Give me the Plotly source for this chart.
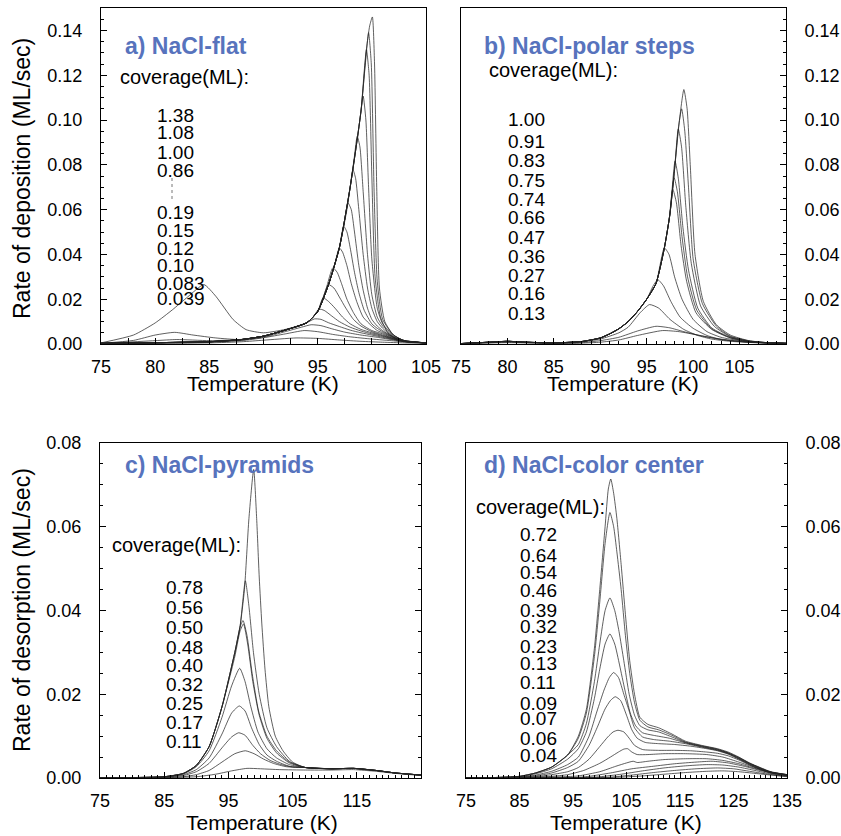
import plotly.graph_objects as go

# ---------------- data ----------------
# Panel a) NaCl-flat : (temperature K, rate ML/s) points per curve
A_LEAD = [(75, 0.0003), (80, 0.0006), (85, 0.001), (88, 0.002), (90, 0.0035), (92, 0.0062), (94, 0.0095)]
A_CURVES = [
    [(75, 0.0005), (78, 0.004), (80, 0.0094), (81.6, 0.0153), (83, 0.021), (84.5, 0.0265), (85.6, 0.0213), (87.2, 0.0109),
     (88.4, 0.0064), (90, 0.005), (92, 0.0065), (94, 0.0095), (95, 0.0145), (96, 0.0265), (97, 0.0429), (98, 0.070),
     (99, 0.104), (99.5, 0.1315), (99.8, 0.142), (100.05, 0.146), (100.25, 0.125), (100.45, 0.07), (100.7, 0.025),
     (101.2, 0.010), (102, 0.004), (103, 0.0015), (105, 0.0005)],
    [(75, 0.0003), (78, 0.0016), (80, 0.004), (81.8, 0.0052), (83.5, 0.004), (85.6, 0.0027), (87.8, 0.002), (90, 0.0035),
     (92, 0.0062), (94, 0.0095), (95, 0.0145), (96, 0.0265), (97, 0.0429), (98, 0.070), (99, 0.104), (99.4, 0.125),
     (99.7, 0.139), (99.95, 0.125), (100.2, 0.07), (100.5, 0.028), (101, 0.011), (102, 0.004), (103, 0.0015), (105, 0.0005)],
    [(75, 0.0002), (80, 0.0015), (82, 0.002), (85, 0.0015), (88, 0.002), (90, 0.0035), (92, 0.0062), (94, 0.0095),
     (95, 0.0145), (96, 0.0265), (97, 0.0429), (98, 0.070), (99, 0.104), (99.3, 0.122), (99.5, 0.1315), (99.75, 0.12),
     (100, 0.075), (100.3, 0.030), (100.8, 0.012), (101.5, 0.005), (102.5, 0.002), (105, 0.0005)],
    A_LEAD + [(95, 0.0145), (96, 0.0265), (97, 0.0429), (98, 0.070), (98.7, 0.093), (99.0, 0.104), (99.2, 0.1107),
              (99.45, 0.10), (99.7, 0.07), (100, 0.038), (100.5, 0.016), (101, 0.009), (102, 0.004), (103, 0.0015), (105, 0.0005)],
    A_LEAD + [(95, 0.0145), (96, 0.0265), (97, 0.0429), (98, 0.070), (98.4, 0.084), (98.65, 0.0928), (98.9, 0.088),
              (99.2, 0.068), (99.6, 0.040), (100, 0.022), (100.5, 0.012), (101, 0.008), (102, 0.0035), (103, 0.0015), (105, 0.0005)],
    A_LEAD + [(95, 0.0145), (96, 0.0265), (97, 0.0429), (97.7, 0.060), (98.0, 0.070), (98.25, 0.0779), (98.5, 0.074),
              (98.8, 0.060), (99.2, 0.040), (99.6, 0.025), (100, 0.016), (100.5, 0.010), (101, 0.007), (102, 0.003),
              (103, 0.0013), (105, 0.0005)],
    A_LEAD + [(95, 0.0145), (96, 0.0265), (97, 0.0429), (97.4, 0.0526), (97.8, 0.063), (98.1, 0.060), (98.4, 0.050),
              (98.8, 0.035), (99.2, 0.024), (99.6, 0.016), (100, 0.011), (100.5, 0.008), (101, 0.006), (102, 0.003),
              (103, 0.0012), (105, 0.0005)],
    A_LEAD + [(95, 0.0145), (96, 0.0265), (96.6, 0.036), (97.0, 0.0429), (97.4, 0.0526), (97.7, 0.050), (98, 0.043),
              (98.4, 0.032), (98.8, 0.023), (99.3, 0.015), (100, 0.009), (100.5, 0.007), (101, 0.0055), (102, 0.003),
              (103, 0.0012), (105, 0.0005)],
    A_LEAD + [(95, 0.0145), (96, 0.0265), (96.5, 0.034), (97.0, 0.0429), (97.3, 0.041), (97.7, 0.035), (98.1, 0.027),
              (98.6, 0.019), (99.2, 0.012), (100, 0.008), (100.5, 0.006), (101, 0.005), (102, 0.0028), (103, 0.0012), (105, 0.0005)],
    A_LEAD + [(95, 0.0145), (95.8, 0.025), (96.4, 0.034), (96.8, 0.032), (97.2, 0.027), (97.7, 0.020), (98.3, 0.014),
              (99, 0.009), (100, 0.006), (101, 0.0045), (102, 0.0025), (103, 0.0012), (105, 0.0005)],
    A_LEAD + [(95, 0.0145), (95.5, 0.0206), (96.0, 0.0265), (96.5, 0.025), (97, 0.021), (97.6, 0.016), (98.3, 0.011),
              (99, 0.008), (100, 0.0055), (101, 0.004), (102, 0.0025), (103, 0.0012), (105, 0.0005)],
    A_LEAD + [(95, 0.0145), (95.5, 0.0206), (96, 0.019), (96.6, 0.016), (97.3, 0.012), (98, 0.009), (99, 0.0065),
              (100, 0.005), (101, 0.0037), (102, 0.0023), (103, 0.0012), (105, 0.0005)],
    A_LEAD + [(94.6, 0.012), (95.1, 0.0156), (95.6, 0.015), (96.3, 0.0125), (97, 0.010), (98, 0.0075), (99, 0.0058),
              (100, 0.0045), (101, 0.0034), (102, 0.0022), (103, 0.0012), (105, 0.0005)],
    A_LEAD + [(94.7, 0.0112), (95.3, 0.011), (96, 0.0095), (97, 0.0078), (98, 0.0062), (99, 0.005), (100, 0.004),
              (101, 0.003), (102, 0.002), (103, 0.0011), (105, 0.0005)],
    [(75, 0.0002), (85, 0.001), (88, 0.0018), (90, 0.003), (92, 0.0055), (93.5, 0.0075), (94.4, 0.0086), (95.3, 0.0082),
     (96.3, 0.0068), (97.5, 0.0053), (99, 0.004), (100.5, 0.003), (102, 0.0018), (103, 0.001), (105, 0.0005)],
    [(75, 0.0001), (85, 0.0008), (88, 0.0015), (90, 0.0028), (92, 0.0045), (93.75, 0.006), (95, 0.0055), (96.5, 0.0042),
     (98, 0.0032), (100, 0.0022), (102, 0.0014), (103, 0.0009), (105, 0.0004)],
    [(75, 0.0001), (85, 0.0005), (88, 0.001), (90, 0.0017), (93, 0.0027), (95, 0.0025), (97, 0.0018), (99, 0.0012),
     (101, 0.0008), (103, 0.0005), (105, 0.0003)],
]
A_UPPER_LABELS = ["1.38", "1.08", "1.00", "0.86"]
A_LOWER_LABELS = ["0.19", "0.15", "0.12", "0.10", "0.083", "0.039"]

# Panel b) NaCl-polar steps
B_LEAD = [(75, 0.0002), (78, 0.0008), (80, 0.0012), (82, 0.0008), (85, 0.0005), (88, 0.0011), (90, 0.0027),
          (91, 0.0045), (92, 0.0068), (93, 0.010), (94, 0.0145), (95, 0.020)]
B_CURVES = [
    B_LEAD + [(96, 0.027), (96.9, 0.0429), (97.5, 0.058), (98.0, 0.078), (98.5, 0.099), (99.0, 0.1136), (99.35, 0.105),
              (99.7, 0.079), (100.2, 0.040), (101.1, 0.019), (102.5, 0.0086), (104, 0.004), (106, 0.0015), (108, 0.0006), (110, 0.0003)],
    B_LEAD + [(96, 0.027), (96.9, 0.0429), (97.5, 0.058), (98.0, 0.078), (98.4, 0.096), (98.76, 0.105), (99.1, 0.095),
              (99.5, 0.070), (100.0, 0.038), (101.0, 0.018), (102.5, 0.008), (104, 0.0035), (106, 0.0014), (108, 0.0006), (110, 0.0003)],
    B_LEAD + [(96, 0.027), (96.9, 0.0429), (97.5, 0.058), (98.0, 0.078), (98.4, 0.096), (98.75, 0.088), (99.2, 0.062),
              (99.8, 0.036), (100.8, 0.017), (102.3, 0.0078), (104, 0.0033), (106, 0.0013), (108, 0.0006), (110, 0.0003)],
    B_LEAD + [(96, 0.027), (96.9, 0.0429), (97.5, 0.058), (98.05, 0.0816), (98.4, 0.074), (98.9, 0.052), (99.5, 0.033),
              (100.5, 0.016), (102, 0.0072), (104, 0.003), (106, 0.0012), (108, 0.0005), (110, 0.0003)],
    B_LEAD + [(96, 0.027), (96.9, 0.0429), (97.5, 0.058), (97.95, 0.0742), (98.3, 0.068), (98.8, 0.048), (99.4, 0.030),
              (100.4, 0.015), (102, 0.0068), (104, 0.0028), (106, 0.0011), (108, 0.0005), (110, 0.0003)],
    B_LEAD + [(96, 0.027), (96.9, 0.0429), (97.4, 0.055), (97.8, 0.0692), (98.2, 0.063), (98.7, 0.044), (99.3, 0.028),
              (100.3, 0.014), (102, 0.0065), (104, 0.0027), (106, 0.001), (108, 0.0005), (110, 0.0003)],
    B_LEAD + [(96, 0.027), (96.9, 0.0429), (97.4, 0.040), (98, 0.030), (98.8, 0.020), (100, 0.011), (101.5, 0.0055),
              (103, 0.003), (105, 0.0015), (107, 0.0007), (110, 0.0003)],
    B_LEAD + [(95.7, 0.026), (96.2, 0.0287), (96.8, 0.026), (97.6, 0.019), (98.6, 0.012), (100, 0.007), (101.5, 0.0038),
              (103, 0.002), (106, 0.0008), (110, 0.0003)],
    [(75, 0.0002), (80, 0.001), (85, 0.0004), (88, 0.001), (90, 0.0022), (92, 0.005), (93, 0.0075), (94.3, 0.014),
     (95.3, 0.0176), (96.3, 0.016), (97.5, 0.011), (99, 0.0065), (100.5, 0.0038), (102, 0.0022), (104, 0.0012), (107, 0.0005), (110, 0.0002)],
    [(75, 0.0001), (80, 0.0008), (85, 0.0003), (88, 0.0006), (90, 0.0015), (92, 0.003), (94, 0.0058), (96, 0.0079),
     (97.5, 0.0072), (99, 0.0055), (101, 0.0035), (103, 0.002), (106, 0.0008), (110, 0.0003)],
    [(75, 0.0001), (80, 0.0006), (85, 0.0002), (88, 0.0004), (90, 0.0008), (92, 0.0018), (94, 0.0038), (96.7, 0.006),
     (98.5, 0.0055), (100.5, 0.004), (102.5, 0.0025), (105, 0.0012), (110, 0.0003)],
]
B_LABELS = ["1.00", "0.91", "0.83", "0.75", "0.74", "0.66", "0.47", "0.36", "0.27", "0.16", "0.13"]

# Panel c) NaCl-pyramids
C_LEAD = [(75, 0.0), (80, 0.0001), (85, 0.0003), (88, 0.0011), (90, 0.003), (92, 0.0075), (94, 0.017)]
C_TAIL = [(107, 0.0025), (111, 0.0022), (114.5, 0.0023), (118, 0.0018), (121, 0.0012), (125, 0.0007)]
C_CURVES = [
    C_LEAD + [(96, 0.030), (96.8, 0.036), (97.5, 0.045), (98.2, 0.062), (98.94, 0.0737), (99.4, 0.062), (99.8, 0.048),
              (100.2, 0.037), (100.7, 0.026), (101.3, 0.017), (102.3, 0.010), (103.5, 0.0065), (105, 0.0038)] + C_TAIL,
    C_LEAD + [(96, 0.030), (96.8, 0.036), (97.64, 0.0471), (98.2, 0.041), (98.9, 0.030), (99.8, 0.020), (101, 0.012),
              (102.5, 0.0075), (104.5, 0.004)] + C_TAIL,
    C_LEAD + [(96, 0.030), (96.8, 0.036), (97.28, 0.0376), (97.9, 0.034), (98.7, 0.025), (99.7, 0.016), (101, 0.010),
              (102.5, 0.0065), (104.5, 0.0038)] + C_TAIL,
    C_LEAD + [(96, 0.029), (96.8, 0.035), (97.35, 0.0368), (98, 0.032), (98.8, 0.023), (99.8, 0.015), (101, 0.0095),
              (102.5, 0.006), (104.5, 0.0036)] + C_TAIL,
    [(75, 0.0), (80, 0.0001), (85, 0.0003), (88, 0.001), (90, 0.0027), (92, 0.0065), (94, 0.0145), (95.5, 0.022),
     (96.76, 0.0262), (97.6, 0.023), (98.5, 0.017), (99.6, 0.011), (101, 0.007), (102.5, 0.0048), (104.5, 0.0032)] + C_TAIL,
    [(75, 0.0), (85, 0.0002), (88, 0.0008), (90, 0.002), (92, 0.0048), (94, 0.0105), (95.5, 0.0155), (96.7, 0.0172),
     (97.6, 0.016), (98.6, 0.012), (99.8, 0.008), (101, 0.0055), (102.5, 0.004), (104.5, 0.0028)] + C_TAIL,
    [(75, 0.0), (85, 0.0002), (88, 0.0006), (90, 0.0015), (92, 0.0035), (94, 0.0072), (95.5, 0.0098), (96.6, 0.0108),
     (97.6, 0.0102), (98.8, 0.0078), (100, 0.0058), (101.5, 0.0042), (103, 0.0033), (105, 0.0026)] + C_TAIL,
    [(75, 0.0), (85, 0.0001), (88, 0.0003), (90, 0.0008), (92, 0.0018), (94, 0.0038), (96, 0.0058), (97.64, 0.0065),
     (99, 0.0058), (100.5, 0.0045), (102, 0.0035), (104, 0.0027)] + C_TAIL,
    [(75, 0.0), (85, 0.0001), (90, 0.0003), (93, 0.0009), (95.5, 0.0017), (97.9, 0.0023), (100, 0.0022), (103, 0.002),
     (107, 0.0019), (111, 0.0019), (114.5, 0.002), (118, 0.0016), (121, 0.0011), (125, 0.0006)],
]
C_LABELS = ["0.78", "0.56", "0.50", "0.48", "0.40", "0.32", "0.25", "0.17", "0.11"]

# Panel d) NaCl-color center
D_LEAD = [(75, 0.0), (80, 0.0001), (85, 0.0004), (88, 0.0012), (91, 0.0026), (94, 0.0055)]
D_CURVES = [
    D_LEAD + [(96, 0.010), (97.5, 0.0164), (99, 0.031), (100, 0.045), (101, 0.060), (101.6, 0.069), (102.06, 0.0714),
              (102.6, 0.068), (103.2, 0.062), (104, 0.051), (104.8, 0.039), (105.6, 0.028), (106.5, 0.020), (107.5, 0.0145),
              (109, 0.0128), (111, 0.012), (113.5, 0.0105), (116, 0.0088), (119, 0.0078), (122, 0.007), (124, 0.0062),
              (126, 0.005), (128, 0.0036), (130, 0.0025), (132, 0.0015), (135, 0.0008)],
    D_LEAD + [(96, 0.0095), (97.5, 0.0155), (99, 0.029), (100, 0.042), (101, 0.056), (101.9, 0.0634), (102.6, 0.060),
              (103.2, 0.054), (104, 0.045), (104.8, 0.034), (105.6, 0.025), (106.5, 0.018), (107.5, 0.0138), (109, 0.0122),
              (111, 0.0115), (113.5, 0.0102), (116, 0.0086), (119, 0.0077), (122, 0.0069), (124, 0.006), (126, 0.0049),
              (128, 0.0035), (130, 0.0024), (132, 0.0014), (135, 0.0008)],
    D_LEAD + [(96, 0.008), (97.5, 0.013), (99, 0.023), (100, 0.032), (101, 0.040), (101.9, 0.043), (102.8, 0.040),
              (103.6, 0.035), (104.5, 0.028), (105.5, 0.020), (106.5, 0.015), (107.5, 0.0125), (109, 0.0115), (111, 0.011),
              (113.5, 0.0098), (116, 0.0085), (119, 0.0076), (122, 0.0068), (124, 0.006), (126, 0.0048), (128, 0.0035),
              (130, 0.0024), (132, 0.0014), (135, 0.0008)],
    [(75, 0.0), (80, 0.0001), (85, 0.0003), (88, 0.001), (91, 0.0022), (94, 0.0045), (96, 0.007), (97.5, 0.011),
     (99, 0.019), (100, 0.026), (101, 0.032), (101.9, 0.0344), (102.8, 0.032), (103.7, 0.027), (104.7, 0.021),
     (105.7, 0.0155), (106.7, 0.0125), (108, 0.0108), (110, 0.0102), (113, 0.0095), (116, 0.0084), (119, 0.0075),
     (122, 0.0067), (124, 0.0059), (126, 0.0047), (128, 0.0034), (130, 0.0023), (132, 0.0014), (135, 0.0008)],
    [(75, 0.0), (85, 0.0002), (88, 0.0007), (91, 0.0016), (94, 0.0032), (96, 0.005), (98, 0.010), (99.5, 0.016),
     (100.8, 0.021), (101.8, 0.024), (102.6, 0.0252), (103.5, 0.024), (104.5, 0.020), (105.5, 0.016), (106.5, 0.012),
     (108, 0.0098), (110, 0.0092), (113, 0.0088), (116, 0.0082), (119, 0.0074), (122, 0.0066), (124, 0.0058),
     (126, 0.0046), (128, 0.0033), (130, 0.0022), (132, 0.0013), (135, 0.0007)],
    [(75, 0.0), (85, 0.0002), (88, 0.0005), (91, 0.0012), (94, 0.0025), (96, 0.004), (98, 0.0078), (99.5, 0.012),
     (101, 0.0165), (102, 0.0185), (102.9, 0.0194), (103.9, 0.0185), (105, 0.015), (106, 0.0115), (107, 0.0095),
     (108.5, 0.0085), (111, 0.0082), (114, 0.008), (117, 0.0076), (120, 0.007), (122, 0.0065), (124, 0.0057),
     (126, 0.0045), (128, 0.0032), (130, 0.0021), (132, 0.0012), (135, 0.0007)],
    [(75, 0.0), (85, 0.0001), (88, 0.0003), (91, 0.0008), (94, 0.0015), (96, 0.0025), (98, 0.0045), (100, 0.0075),
     (101.5, 0.0098), (102.5, 0.011), (103.4, 0.0114), (104.5, 0.011), (105.5, 0.0095), (106.5, 0.0078), (108, 0.0068),
     (111, 0.0066), (114, 0.0066), (117, 0.0065), (120, 0.0062), (122, 0.0059), (124, 0.0053), (126, 0.0043),
     (128, 0.0031), (130, 0.002), (132, 0.0012), (135, 0.0006)],
    [(75, 0.0), (88, 0.0002), (91, 0.0004), (94, 0.0008), (97, 0.0018), (100, 0.0035), (102, 0.005), (103.5, 0.0062),
     (104.5, 0.0069), (105.2, 0.0070), (106, 0.0062), (107, 0.0056), (109, 0.0056), (112, 0.0058), (116, 0.0058),
     (120, 0.0056), (123, 0.005), (126, 0.0038), (129, 0.0025), (132, 0.0014), (135, 0.0007)],
    [(75, 0.0), (90, 0.0002), (93, 0.0003), (96, 0.0005), (100, 0.0015), (103, 0.0028), (105, 0.0036), (106.25, 0.004),
     (107, 0.0037), (109, 0.004), (112, 0.0044), (116, 0.0046), (120, 0.0046), (123, 0.0042), (126, 0.0034),
     (129, 0.0023), (132, 0.0013), (135, 0.0007)],
    [(75, 0.0), (95, 0.0001), (98, 0.0004), (102, 0.0012), (106, 0.0022), (110, 0.0028), (114, 0.0034), (118, 0.0038),
     (121, 0.004), (124, 0.0036), (127, 0.0028), (130, 0.0018), (133, 0.001), (135, 0.0006)],
    [(75, 0.0), (97, 0.0001), (100, 0.0003), (104, 0.0009), (108, 0.0017), (112, 0.0024), (116, 0.0029), (120, 0.0032),
     (123, 0.0031), (126, 0.0026), (129, 0.0018), (132, 0.001), (135, 0.0005)],
    [(75, 0.0), (99, 0.0001), (102, 0.0002), (106, 0.0007), (110, 0.0013), (114, 0.0018), (118, 0.0022), (122, 0.0024),
     (125, 0.0022), (128, 0.0016), (131, 0.001), (135, 0.0004)],
    [(75, 0.0), (101, 0.0001), (104, 0.0002), (108, 0.0005), (112, 0.0009), (116, 0.0013), (120, 0.0016), (123, 0.0017),
     (126, 0.0015), (129, 0.0011), (132, 0.0007), (135, 0.0003)],
]
D_LABELS = ["0.72", "0.64", "0.54", "0.46", "0.39", "0.32", "0.23", "0.13", "0.11", "0.09", "0.07", "0.06", "0.04"]

PANEL_TITLES = ["a) NaCl-flat", "b) NaCl-polar steps", "c) NaCl-pyramids", "d) NaCl-color center"]
X_TITLE = "Temperature (K)"
Y_TITLE_TOP = "Rate of deposition (ML/sec)"
Y_TITLE_BOTTOM = "Rate of desorption (ML/sec)"
COVERAGE_HEAD = "coverage(ML):"

# ---------------- figure ----------------
W, H = 841, 836
FONT = "Liberation Sans, Arial, Helvetica, sans-serif"
BLUE = "#5773bd"
LINE = "rgba(35,35,35,0.72)"


def px(x):
    return x / W


def py(y):
    return 1 - y / H


fig = go.Figure()


def add_curves(curves, xa, ya):
    for c in curves:
        fig.add_trace(go.Scatter(
            x=[p[0] for p in c], y=[p[1] for p in c], mode="lines",
            line=dict(color=LINE, width=1, shape="spline", smoothing=0.55),
            xaxis=xa, yaxis=ya, showlegend=False, hoverinfo="skip"))


add_curves(A_CURVES, "x", "y")
add_curves(B_CURVES, "x2", "y2")
add_curves(C_CURVES, "x3", "y3")
add_curves(D_CURVES, "x4", "y4")

TICKFONT = dict(family=FONT, size=18, color="black")


def xaxis(domain, rng, tickvals, minor_dtick, minor_len, anchor):
    return dict(domain=domain, range=rng, tickmode="array", tickvals=tickvals,
                ticks="inside", ticklen=6, tickwidth=1, tickcolor="black",
                minor=dict(dtick=minor_dtick, tick0=75, ticks="inside", ticklen=minor_len,
                           tickcolor="black", tickwidth=1),
                showline=True, linecolor="black", linewidth=1, mirror=True,
                showgrid=False, zeroline=False, tickfont=TICKFONT, anchor=anchor,
                automargin=False, ticklabelstandoff=6)


def yaxis(domain, rng, side, mirror, anchor, show_labels=True):
    return dict(domain=domain, range=rng, dtick=0.02, tick0=0, tickformat=".2f",
                ticks="inside", ticklen=6, tickwidth=1, tickcolor="black",
                minor=dict(dtick=0.005, ticks="inside", ticklen=3, tickcolor="black", tickwidth=1),
                showline=True, linecolor="black", linewidth=1, mirror=mirror, side=side,
                showgrid=False, zeroline=False, tickfont=TICKFONT, anchor=anchor,
                showticklabels=show_labels, automargin=False, ticklabelstandoff=14)


top_dom = [py(344), py(8)]
bot_dom = [py(778), py(443)]

fig.update_layout(
    width=W, height=H, margin=dict(l=0, r=0, t=0, b=0, autoexpand=False),
    paper_bgcolor="white", plot_bgcolor="white",
    font=dict(family=FONT, color="black"),
    xaxis=xaxis([px(101), px(426)], [75, 105], [75, 80, 85, 90, 95, 100, 105], 2.5, 6, "y"),
    yaxis=yaxis(top_dom, [0, 0.15], "left", True, "x"),
    xaxis2=xaxis([px(461), px(786)], [75, 110], [75, 80, 85, 90, 95, 100, 105], 1, 3, "y2"),
    yaxis2=yaxis(top_dom, [0, 0.15], "right", True, "x2"),
    xaxis3=xaxis([px(100), px(421)], [75, 125], [75, 85, 95, 105, 115], 1, 3, "y3"),
    yaxis3=yaxis(bot_dom, [0, 0.08], "left", "ticks", "x3"),
    xaxis4=xaxis([px(466), px(787)], [75, 135], [75, 85, 95, 105, 115, 125, 135], 1, 3, "y4"),
    yaxis4=yaxis(bot_dom, [0, 0.08], "right", True, "x4"),
)

ann = []


def text(x, y, s, size, xanchor="left", bold=False, color="black", angle=0):
    ann.append(dict(x=px(x), y=py(y), xref="paper", yref="paper", text=f"<b>{s}</b>" if bold else s,
                    showarrow=False, xanchor=xanchor, yanchor="middle", textangle=angle,
                    font=dict(family=FONT, size=size, color=color)))


# panel titles
text(123, 46, PANEL_TITLES[0], 23, bold=True, color=BLUE)
text(482, 46, PANEL_TITLES[1], 23, bold=True, color=BLUE)
text(123, 465, PANEL_TITLES[2], 23, bold=True, color=BLUE)
text(482, 465, PANEL_TITLES[3], 23, bold=True, color=BLUE)

# coverage headings
text(118, 77, COVERAGE_HEAD, 20)
text(487, 70, COVERAGE_HEAD, 20)
text(110, 545, COVERAGE_HEAD, 20)
text(474, 507, COVERAGE_HEAD, 20)

# coverage labels
LBL = 19
A_UPPER_Y = [116, 133, 152, 170]
A_LOWER_Y = [212, 230, 248, 265, 283, 299]
for s, y in zip(A_UPPER_LABELS, A_UPPER_Y):
    text(155, y, s, LBL)
for s, y in zip(A_LOWER_LABELS, A_LOWER_Y):
    text(155, y, s, LBL)
B_Y = [120, 141, 160, 180, 199, 217, 237, 256, 275, 293, 313]
for s, y in zip(B_LABELS, B_Y):
    text(506, y, s, LBL)
C_Y = [587, 607, 627, 647, 665, 684, 703, 722, 741]
for s, y in zip(C_LABELS, C_Y):
    text(164, y, s, LBL)
D_Y = [534, 555, 572, 590, 610, 626, 646, 663, 682, 703, 718, 738, 755]
for s, y in zip(D_LABELS, D_Y):
    text(518, y, s, LBL)

# axis titles
text(263, 384, X_TITLE, 21, xanchor="center")
text(623, 384, X_TITLE, 21, xanchor="center")
text(262, 822, X_TITLE, 21, xanchor="center")
text(626, 822, X_TITLE, 21, xanchor="center")
text(22, 179, Y_TITLE_TOP, 23, xanchor="center", angle=-90)
text(22, 610, Y_TITLE_BOTTOM, 23, xanchor="center", angle=-90)

fig.update_layout(annotations=ann)

# dotted vertical connector between "0.86" and "0.19"
fig.add_shape(type="line", xref="paper", yref="paper", x0=px(172), x1=px(172), y0=py(178), y1=py(199),
              line=dict(color="#777", width=1, dash="dot"))

# remove the browser's default page margin so the figure sits at the window origin
fig.write_html("out.html", config={"displayModeBar": False},
               post_script="document.body.style.margin='0';document.body.style.padding='0';"
                           "document.body.style.overflow='hidden';")
